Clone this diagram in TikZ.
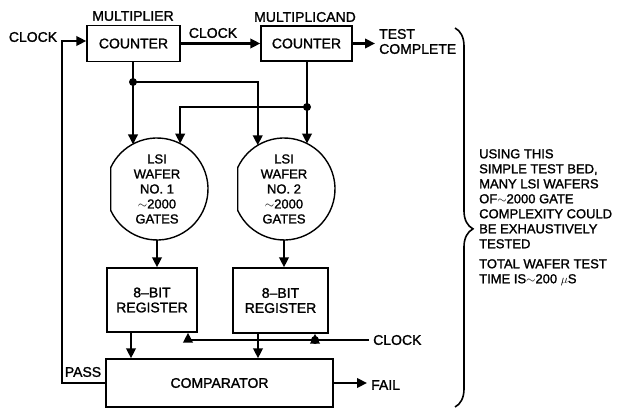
\documentclass[tikz,border=0pt]{standalone}
\usepackage{fontspec}
\setmainfont{Liberation Sans}[FakeBold=1.4]
\usepackage{tikz}
\usetikzlibrary{arrows.meta, positioning, calc, decorations.pathreplacing}
\tikzset{
  box/.style={
    rectangle, draw=black, line width=1.4pt, fill=white, align=center,
    inner sep=2pt, font=\fontsize{14}{15}\selectfont
  },
  wafer/.style={
    circle, minimum size=102pt, inner sep=0pt, outer sep=0pt, align=center,
    font=\fontsize{13}{15}\selectfont
  },
  outline/.style={draw=black, line width=1.4pt},
  lbl/.style={inner sep=0pt, align=left, font=\fontsize{14}{15}\selectfont},
  notetext/.style={inner sep=0pt, align=left, font=\fontsize{13}{15}\selectfont},
  wire/.style={line width=2.3pt, draw=black},
  arrow/.style={-{Triangle[length=10pt,width=9.5pt]}, line width=2.3pt, draw=black},
  dot/.style={circle, fill=black, inner sep=0pt, minimum size=8pt},
  brace/.style={decorate, decoration={brace, amplitude=18pt, aspect=0.53}, line width=1.6pt}
}
\begin{document}
\begin{tikzpicture}[x=1pt, y=1pt]
\useasboundingbox (0,0) rectangle (635,-409);

\node[box, minimum width=93pt, minimum height=36pt] (mplr) at (133.5,-43.5) {COUNTER};
\node[lbl] (mplrlbl) at (133,-16) {MULTIPLIER};
\node[box, minimum width=91pt, minimum height=35pt] (mcnd) at (306.5,-43.5) {COUNTER};
\node[lbl] (mcndlbl) at (305,-17) {MULTIPLICAND};

\node[wafer] (w1) at (157,-189) {LSI\\WAFER\\NO.~1\\$\sim$2000\\GATES};
\node[wafer] (w2) at (284,-189) {LSI\\WAFER\\NO.~2\\$\sim$2000\\GATES};
\draw[outline] (w1.-155) arc[start angle=-155, end angle=155, radius=51] -- cycle;
\draw[outline] (w2.-155) arc[start angle=-155, end angle=155, radius=51] -- cycle;

\node[box, minimum width=90pt, minimum height=64pt] (reg1) at (152,-300) {8--BIT\\REGISTER};
\node[box, minimum width=95pt, minimum height=65pt] (reg2) at (280.5,-300.5) {8--BIT\\REGISTER};
\node[box, minimum width=227pt, minimum height=48pt] (cmp) at (219.5,-383) {COMPARATOR};

\node[lbl] (clkin) at (33,-37) {CLOCK};
\node[lbl] (clkmid) at (213,-33) {CLOCK};
\node[lbl, anchor=west, inner xsep=4pt] (tc) at (375,-41.5) {TEST\\COMPLETE};
\node[lbl, anchor=west, inner xsep=4pt] (clkreg) at (369,-340) {CLOCK};
\node[lbl] (pass) at (83,-372) {PASS};
\node[lbl, anchor=west, inner xsep=4pt] (fail) at (367,-385) {FAIL};
\node[notetext, anchor=north west] (note) at (479,-149)
  {USING THIS\\SIMPLE TEST BED,\\MANY LSI WAFERS\\OF$\sim$2000 GATE\\COMPLEXITY COULD\\
   BE EXHAUSTIVELY\\TESTED\\[5pt]TOTAL WAFER TEST\\TIME IS$\sim$200 $\mu$S};

\coordinate (j1) at (133,-82);
\coordinate (j2) at (307,-107);
\coordinate (jc) at (315,-340);
\coordinate (lc) at (62,-41);
\coordinate (btop) at (455,-28);
\coordinate (bbot) at (455,-407);

\draw[arrow] (cmp.west) -| (lc) -- (lc -| mplr.west);
\draw[arrow] (mplr.east) -- (mcnd.west);
\draw[arrow] (mcnd.east) -- (mcnd.east -| tc.west);

\draw[arrow] (j1 |- mplr.south) -- (j1 |- w1.119);
\draw[arrow] (j1) -| (w2.121);
\draw[arrow] (j2 |- mcnd.south) -- (j2 |- w2.63);
\draw[arrow] (j2) -| (w1.63);
\node[dot] (d1) at (j1) {};
\node[dot] (d2) at (j2) {};

\draw[arrow] (w1.south) -- (w1.south |- reg1.north);
\draw[arrow] (w2.south) -- (w2.south |- reg2.north);
\draw[arrow] ([xshift=-21pt]reg1.south) coordinate (r1o) -- (r1o |- cmp.north);
\draw[arrow] ([xshift=-22.5pt]reg2.south) coordinate (r2o) -- (r2o |- cmp.north);

\draw[wire] (clkreg.west) -- (jc);
\draw[arrow] (jc) -| ([xshift=36pt]reg1.south);
\draw[arrow] (jc) -- (jc |- reg2.south);
\node[dot] (d3) at (jc) {};

\draw[arrow] (cmp.east) -- (cmp.east -| fail.west);

\draw[brace] (btop) -- (bbot);

\end{tikzpicture}
\end{document}
